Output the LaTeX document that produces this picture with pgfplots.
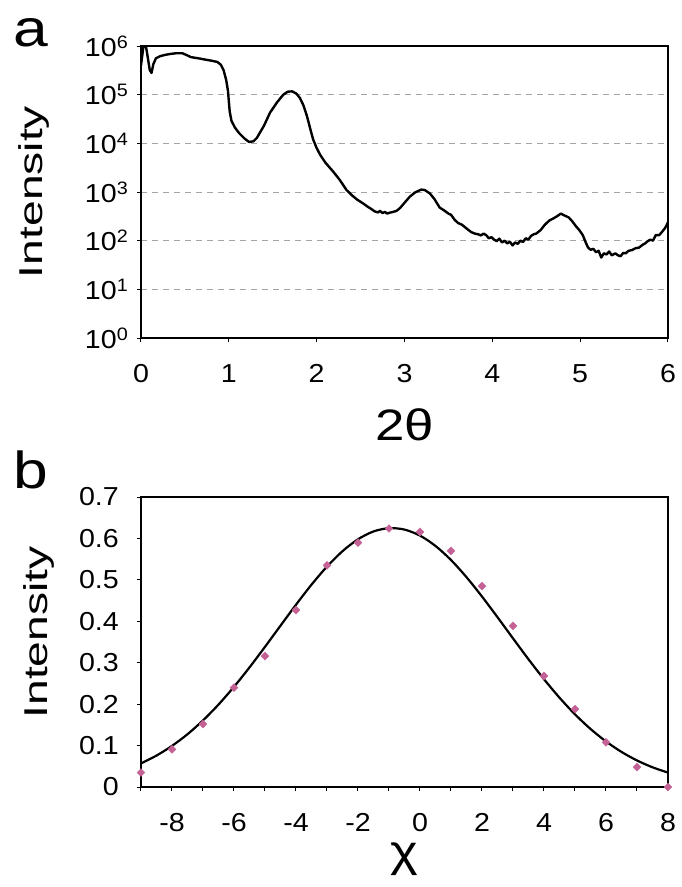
\documentclass[border=0pt]{standalone}
\usepackage{pgfplots}
\pgfplotsset{compat=1.18}
\usepackage{graphicx}
\usepackage{fontspec}
\setmainfont{Liberation Sans}
\definecolor{mauve}{RGB}{196,98,150}
\definecolor{gridgray}{RGB}{165,165,165}
\newcommand{\sx}[2][1.1]{\scalebox{#1}[1]{#2}}
\newcommand{\tp}[1]{\sx{10\raisebox{0.3em}{\fontsize{18}{18}\selectfont #1}}}
\newcommand{\ylab}{{\fontsize{33}{33}\selectfont\sx[1.4]{Intensity}}}

\begin{document}
\begin{tikzpicture}
\pgfplotsset{
  common/.style={
    scale only axis, width=527pt,
    axis line style={line width=1.3pt},
    tick style={line width=1pt, black},
    tick align=outside, tick pos=left,
    major tick length=4pt, minor tick length=4pt,
    ticklabel style={font=\fontsize{26}{26}\selectfont, inner sep=0pt},
    xticklabel style={anchor=base, yshift=-40pt},
    label style={font=\fontsize{44}{44}\selectfont, inner sep=0pt},
    clip mode=individual,
  }
}
\begin{axis}[common, name=top, at={(0,0)}, anchor=south west, height=292pt,
  xmin=0, xmax=6, ymode=log, ymin=1, ymax=1e6,
  xtick={0,1,2,3,4,5,6},
  xticklabels={\sx{0},\sx{1},\sx{2},\sx{3},\sx{4},\sx{5},\sx{6}},
  ytick={1,10,100,1000,10000,100000,1000000},
  yticklabels={\tp{0},\tp{1},\tp{2},\tp{3},\tp{4},\tp{5},\tp{6}},
  yticklabel style={anchor=east, xshift=-9pt},
  yminorticks=false,
  ymajorgrids, grid style={gridgray, line width=1pt, dash pattern=on 6pt off 5pt},
  xlabel={\sx[1.2]{2θ}}, ylabel={\ylab},
  xlabel style={at={(axis description cs:0.5,0)}, anchor=base, yshift=-102pt},
  ylabel style={at={(axis description cs:-0.186,0.5)}, anchor=base},
]
\addplot[black, line width=2.4pt, line join=round] coordinates {
(0.000,4.0e5) (0.025,9.0e5) (0.045,1.3e6) (0.07,7.0e5) (0.10,3.2e5) (0.12,2.8e5)
(0.14,4.2e5) (0.17,5.6e5) (0.22,6.2e5) (0.28,6.6e5) (0.34,6.9e5) (0.40,7.1e5)
(0.47,7.1e5) (0.52,6.5e5) (0.57,5.9e5) (0.65,5.6e5) (0.72,5.3e5) (0.80,5.0e5)
(0.87,4.7e5) (0.91,4.1e5) (0.94,3.2e5) (0.97,2.0e5) (0.99,1.2e5) (1.01,4.5e4)
(1.03,2.9e4) (1.07,2.1e4) (1.12,1.6e4) (1.18,1.25e4) (1.23,1.07e4) (1.28,1.10e4)
(1.32,1.30e4) (1.40,2.3e4) (1.47,4.3e4) (1.55,7.0e4) (1.62,1.0e5) (1.67,1.15e5)
(1.72,1.17e5) (1.77,1.05e5) (1.81,8.5e4) (1.85,6.0e4) (1.89,3.6e4) (1.93,1.9e4)
(1.96,1.2e4) (2.00,8.0e3) (2.04,5.8e3) (2.10,4.0e3) (2.19,2.6e3) (2.26,1.8e3)
(2.34,1.1e3) (2.40,860) (2.46,700) (2.53,580) (2.58,500) (2.62,450) (2.66,400)
(2.70,380) (2.72,410) (2.75,370) (2.78,390) (2.80,360) (2.83,375) (2.87,390)
(2.91,410) (2.95,470) (3.00,600) (3.06,800) (3.12,980) (3.19,1120) (3.23,1100)
(3.29,930) (3.34,720) (3.40,480) (3.45,420) (3.50,360) (3.53,340) (3.57,270)
(3.61,230) (3.65,215) (3.68,195) (3.72,170) (3.76,150) (3.80,140) (3.84,135)
(3.87,128) (3.90,140) (3.93,130) (3.96,112) (3.99,118) (4.02,105) (4.05,98)
(4.08,110) (4.11,92) (4.14,100) (4.17,88) (4.20,95) (4.23,80) (4.26,92)
(4.29,86) (4.32,100) (4.35,94) (4.38,112) (4.41,105) (4.44,125) (4.47,135)
(4.50,140) (4.55,165) (4.60,215) (4.65,260) (4.70,290) (4.74,320) (4.78,360)
(4.82,330) (4.87,300) (4.91,250) (4.95,200) (4.99,165) (5.03,130) (5.06,95)
(5.09,72) (5.12,65) (5.15,68) (5.18,58) (5.21,62) (5.24,45) (5.27,55)
(5.30,52) (5.33,60) (5.36,50) (5.40,55) (5.43,50) (5.46,48) (5.49,56)
(5.52,55) (5.55,62) (5.59,64) (5.63,70) (5.67,72) (5.71,82) (5.74,88)
(5.77,98) (5.80,105) (5.83,100) (5.86,130) (5.90,130) (5.93,150) (5.96,175)
(5.98,200) (6.00,240)
};
\end{axis}

\begin{axis}[common, name=bot, at={(0,-449pt)}, anchor=south west, height=290pt,
  xmin=-9, xmax=8, ymin=0, ymax=0.7,
  xtick={-8,-6,-4,-2,0,2,4,6,8},
  minor xtick={-9,-7,-5,-3,-1,1,3,5,7},
  xticklabels={\sx{-8},\sx{-6},\sx{-4},\sx{-2},\sx{0},\sx{2},\sx{4},\sx{6},\sx{8}},
  ytick={0,0.1,0.2,0.3,0.4,0.5,0.6,0.7},
  yticklabels={\sx{0},\sx{0.1},\sx{0.2},\sx{0.3},\sx{0.4},\sx{0.5},\sx{0.6},\sx{0.7}},
  yticklabel style={anchor=east, xshift=-18pt},
  xlabel={\sx[1.2]{χ}}, ylabel={\ylab},
  xlabel style={at={(axis description cs:0.5,0)}, anchor=base, yshift=-79pt},
  ylabel style={at={(axis description cs:-0.178,0.533)}, anchor=base},
]
\addplot[black, line width=2.2pt, smooth] coordinates {
(-9,0.0570) (-8.5,0.0759) (-8,0.0993) (-7.5,0.1274) (-7,0.1608) (-6.5,0.1990)
(-6,0.2419) (-5.5,0.2887) (-5,0.3384) (-4.5,0.3894) (-4,0.4401) (-3.5,0.4884)
(-3,0.5321) (-2.5,0.5692) (-2,0.5980) (-1.5,0.6169) (-1,0.6248) (-0.5,0.6214)
(0,0.6068) (0.5,0.5819) (1,0.5479) (1.5,0.5065) (2,0.4598) (2.5,0.4099)
(3,0.3588) (3.5,0.3083) (4,0.2602) (4.5,0.2156) (5,0.1754) (5.5,0.1402)
(6,0.1100) (6.5,0.0847) (7,0.0641) (7.5,0.0476) (8,0.0347)
};
\addplot[only marks, mark=square*, mark size=2.8pt, mauve,
  mark options={rotate=45, draw=mauve, fill=mauve}] coordinates {
(-9,0.035) (-8,0.091) (-7,0.152) (-6,0.240) (-5,0.316) (-4,0.427) (-3,0.535)
(-2,0.590) (-1,0.624) (0,0.616) (1,0.570) (2,0.485) (3,0.389) (4,0.268)
(5,0.188) (6,0.108) (7,0.048) (8,0.0)
};
\end{axis}

\node[anchor=base west, font=\fontsize{52}{52}\selectfont, inner sep=0pt] at (-128pt,291pt) {\sx[1.2]{a}};
\node[anchor=base west, font=\fontsize{52}{52}\selectfont, inner sep=0pt] at (-128pt,-150pt) {\sx[1.2]{b}};
\path (-141pt,338pt) rectangle (541pt,-549pt);
\end{tikzpicture}
\end{document}
